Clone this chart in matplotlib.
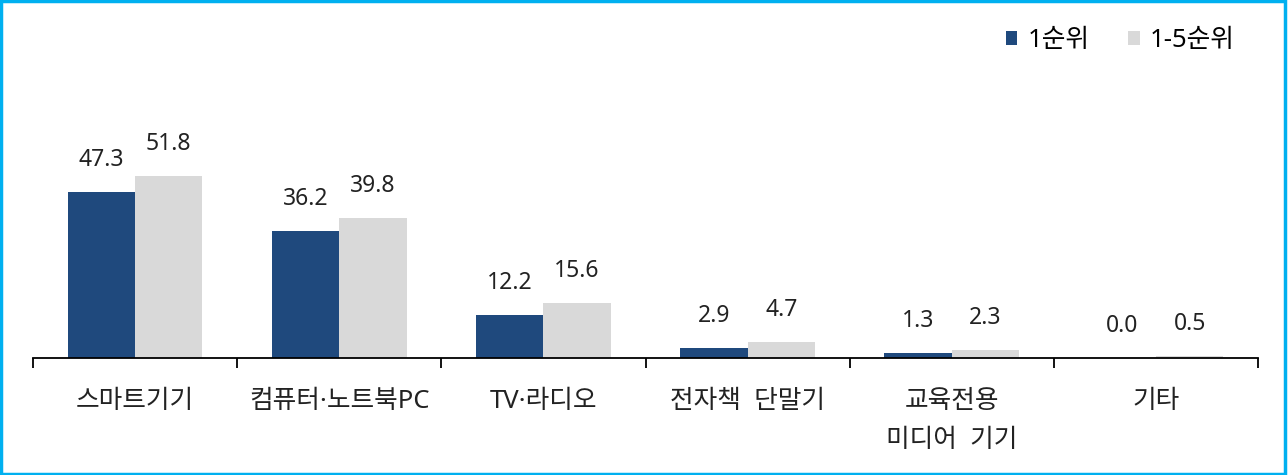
import matplotlib.pyplot as plt
import numpy as np
from matplotlib.patches import Rectangle

plt.rcParams['font.family'] = ['Noto Sans', 'Noto Sans CJK KR', 'DejaVu Sans']

categories = ['스마트기기', '컴퓨터·노트북PC', 'TV·라디오', '전자책  단말기', '교육전용\n미디어  기기', '기타']
rank1 = [47.3, 36.2, 12.2, 2.9, 1.3, 0.0]
rank1to5 = [51.8, 39.8, 15.6, 4.7, 2.3, 0.5]
series_names = ['1순위', '1-5순위']

navy = '#1F497D'
gray = '#D9D9D9'

fig = plt.figure(figsize=(12.88, 4.75), dpi=100)
ax = fig.add_axes([33 / 1288, 117 / 475, 1225 / 1288, 338 / 475])

x = np.arange(len(categories))
w = 0.33
b1 = ax.bar(x - w / 2, rank1, w, color=navy, label=series_names[0])
b2 = ax.bar(x + w / 2, rank1to5, w, color=gray, label=series_names[1])

for bars, vals in [(b1, rank1), (b2, rank1to5)]:
    for rect, v in zip(bars, vals):
        ax.annotate(f'{v:.1f}', (rect.get_x() + rect.get_width() / 2, v),
                    xytext=(0, 23), textcoords='offset points',
                    ha='center', va='center', fontsize=16.5, color='#222222')

ax.set_xlim(-0.5, len(categories) - 0.5)
ax.set_ylim(0, 96.3)

for s in ['top', 'right', 'left']:
    ax.spines[s].set_visible(False)
ax.spines['bottom'].set_linewidth(1.3)
ax.set_yticks([])

ax.set_xticks(x)
ax.set_xticklabels(categories, fontsize=18.5, linespacing=1.75, color='#222222')
ax.tick_params(axis='x', which='major', length=0, pad=22)
ax.set_xticks(np.arange(len(categories) + 1) - 0.5, minor=True)
ax.tick_params(axis='x', which='minor', length=7, width=1.3, direction='out')

leg = ax.legend(loc='upper right', bbox_to_anchor=(1.0, 1.045), ncol=2, frameon=False,
                fontsize=18.5, handlelength=0.45, handleheight=0.45, handletextpad=0.4,
                columnspacing=1.5)

fig.patches.append(Rectangle((0.001, 0.002), 0.997, 0.995, transform=fig.transFigure,
                             fill=False, edgecolor='#00B0F0', linewidth=2.5))

fig.savefig('out.png', dpi=100)
